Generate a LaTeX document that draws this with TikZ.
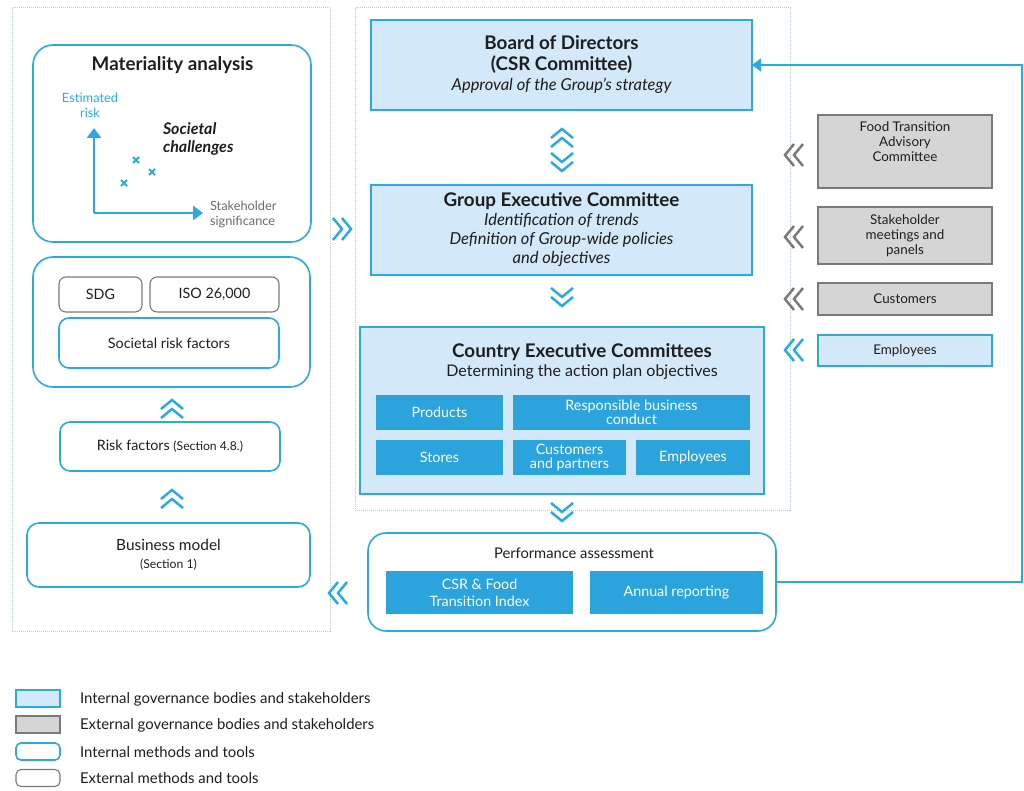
\documentclass[tikz,border=0pt]{standalone}
\usepackage{fontspec}
\setmainfont{Lato}
\usetikzlibrary{arrows.meta}

\definecolor{govline}{HTML}{29AAE1}
\definecolor{govfill}{HTML}{D3E8F8}
\definecolor{themefill}{HTML}{2BA3DD}
\definecolor{extfill}{HTML}{D5D5D5}
\definecolor{extline}{HTML}{7A7A7A}
\definecolor{frameline}{HTML}{B9C9D2}
\definecolor{inktext}{HTML}{1E1E1E}
\definecolor{axistext}{HTML}{6A6A6A}

\newcommand{\govtitle}{\fontsize{18.8}{20}\selectfont\bfseries}
\newcommand{\govtext}{\fontsize{16.5}{19}\selectfont\itshape}

\tikzset{
  every node/.style={text=inktext, inner sep=0pt, outer sep=0pt},
  govbox/.style={draw=govline, fill=govfill, line width=1.6},
  extbox/.style={draw=extline, fill=extfill, line width=1.2},
  intool/.style={draw=govline, line width=1.6, rounded corners=#1},
  intool/.default=10,
  exttool/.style={draw=extline, line width=1.1, rounded corners=#1},
  exttool/.default=7,
  theme/.style={fill=themefill, text=white, align=center,
    font=\fontsize{14.3}{14}\selectfont},
  sidetxt/.style={align=center, font=\fontsize{13.4}{15}\selectfont},
  tooltxt/.style={align=center, font=\fontsize{14.3}{18}\selectfont},
  legtxt/.style={anchor=west, font=\fontsize{14.9}{15}\selectfont},
  frame/.style={draw=frameline, densely dotted, line width=1},
  axis/.style={draw=govline, line width=2.5, -{Triangle[width=14pt,length=10pt]}},
  pics/dchev/.style={code={
    \draw[line width=2.5, line join=miter, pic actions]
      (-10,-11) -- (-1,0) -- (-10,11) (-1,-11) -- (8,0) -- (-1,11);}},
}

\begin{document}
\begin{tikzpicture}[x=1pt,y=-1pt]
\useasboundingbox (0,0) rectangle (1024,791);

% dotted frames
\draw[frame] (12,8) rectangle (330,631);
\draw[frame] (355,8) rectangle (790,510);

% left column
\node[intool=20, minimum width=278, minimum height=197] (mat) at (172,143.5) {};
\node[font=\govtitle] (mattitle) at (172.5,65) {Materiality analysis};
\coordinate (orig) at (94,213);
\coordinate (riskend) at (94,128);
\coordinate (sigend) at (203,213);
\draw[axis] (orig) -- (riskend);
\draw[axis] (orig) -- (sigend);
\node[align=center, text=govline, font=\fontsize{12.8}{15}\selectfont] (risklbl) at (90,105) {Estimated\\risk};
\node[anchor=west, align=left, font=\fontsize{16}{18}\selectfont\bfseries\itshape] (chall) at (163,139) {Societal\\challenges};
\node[anchor=west, align=left, text=axistext, font=\fontsize{12.8}{15}\selectfont] (siglbl) at (210,214.5) {Stakeholder\\significance};
\foreach \cx/\cy in {136/160, 152/172, 124/183}
  \draw[govline, line width=1.8] (\cx-3,\cy-3) -- (\cx+3,\cy+3) (\cx-3,\cy+3) -- (\cx+3,\cy-3);

\node[intool=20, minimum width=277, minimum height=130] (soc) at (171.5,322) {};
\node[exttool, minimum width=83, minimum height=35, tooltxt] (sdg) at (100.5,294.5) {SDG};
\node[exttool, minimum width=129, minimum height=35, tooltxt] (iso) at (214.5,294.5) {ISO 26,000};
\node[intool, minimum width=220, minimum height=50, tooltxt] (srf) at (169,343) {Societal risk factors};
\node[intool, minimum width=220, minimum height=49, tooltxt] (risk) at (170,446.5)
  {Risk factors {\fontsize{12.2}{12}\selectfont(Section 4.8.)}};
\node[intool=12, minimum width=283, minimum height=64, align=center,
  font=\fontsize{15.4}{18}\selectfont] (bmod) at (168.5,555)
  {Business model\\{\fontsize{12.2}{12}\selectfont(Section 1)}};

\pic[draw=govline, rotate=90] at (172,408) {dchev};
\pic[draw=govline, rotate=90] at (172,498) {dchev};
\pic[draw=govline] at (343,229) {dchev};
\pic[draw=govline, rotate=180] at (337,593) {dchev};

% governance bodies
\node[govbox, minimum width=381, minimum height=90, align=center,
  font=\fontsize{16.5}{20.5}\selectfont] (board) at (561.5,65)
  {{\govtitle Board of Directors}\\{\govtitle (CSR Committee)}\\{\govtext Approval of the Group's strategy}};
\node[govbox, minimum width=381, minimum height=90, align=center,
  font=\fontsize{16.5}{19}\selectfont] (gec) at (561.5,230)
  {{\govtitle Group Executive Committee}\\{\govtext Identification of trends}\\
   {\govtext Definition of Group-wide policies}\\{\govtext and objectives}};
\node[govbox, minimum width=404, minimum height=167] (cec) at (562,410.5) {};
\node[font=\govtitle] (cectitle) at (582,352) {Country Executive Committees};
\node[font=\fontsize{16}{17}\selectfont] (cecsub) at (582,372) {Determining the action plan objectives};
\node[theme, minimum width=127, minimum height=35] (products) at (439.5,412.5) {Products};
\node[theme, minimum width=237, minimum height=35] (rbc) at (631.5,412.5) {Responsible business\\conduct};
\node[theme, minimum width=127, minimum height=35] (stores) at (439.5,457.5) {Stores};
\node[theme, minimum width=113, minimum height=35] (custpart) at (569.5,457.5) {Customers\\and partners};
\node[theme, minimum width=114, minimum height=35] (employees) at (693,457.5) {Employees};

\pic[draw=govline, rotate=90] at (562,137) {dchev};
\pic[draw=govline, rotate=-90] at (562,163) {dchev};
\pic[draw=govline, rotate=-90] at (562,298) {dchev};
\pic[draw=govline, rotate=-90] at (562,513) {dchev};

% performance assessment
\node[intool=18, minimum width=408, minimum height=98] (perf) at (572,582) {};
\node[font=\fontsize{14.7}{16}\selectfont] (perftitle) at (574,553) {Performance assessment};
\node[theme, minimum width=187, minimum height=43, font=\fontsize{14.3}{17}\selectfont] (csrindex) at (479.5,592.5) {CSR \& Food\\Transition Index};
\node[theme, minimum width=173, minimum height=43, font=\fontsize{14.3}{17}\selectfont] (annual) at (676.5,592.5) {Annual reporting};

\coordinate (loopcorner) at (1022,65);
\draw[govline, line width=1.5, -{Triangle[width=13pt,length=9pt]}] (perf.east) -| (loopcorner) -- (board.east);

% stakeholders
\node[extbox, minimum width=174, minimum height=73] (ftac) at (905,151.5) {};
\node[sidetxt] (ftactxt) at (905,142) {Food Transition\\Advisory\\Committee};
\node[extbox, minimum width=174, minimum height=57, sidetxt] (meetings) at (905,235.5) {Stakeholder\\meetings and\\panels};
\node[extbox, minimum width=174, minimum height=32, sidetxt] (customers) at (905,299) {Customers};
\node[govbox, minimum width=174, minimum height=31, sidetxt] (staff) at (905,350.5) {Employees};

\pic[draw=extline, rotate=180] at (793,155) {dchev};
\pic[draw=extline, rotate=180] at (793,237) {dchev};
\pic[draw=extline, rotate=180] at (793,299) {dchev};
\pic[draw=govline, rotate=180] at (793,350) {dchev};

% legend
\node[govbox, minimum width=44, minimum height=17] (leggov) at (38,698.5) {};
\node[legtxt] (leggovtxt) at (80,699) {Internal governance bodies and stakeholders};
\node[extbox, minimum width=44, minimum height=17] (legext) at (38,724.5) {};
\node[legtxt] (legexttxt) at (80,725) {External governance bodies and stakeholders};
\node[intool=5, minimum width=44, minimum height=17] (legint) at (38,751.5) {};
\node[legtxt] (leginttxt) at (80,752) {Internal methods and tools};
\node[exttool=5, minimum width=44, minimum height=17] (legtool) at (38,778) {};
\node[legtxt] (legtooltxt) at (80,778) {External methods and tools};
\end{tikzpicture}
\end{document}
